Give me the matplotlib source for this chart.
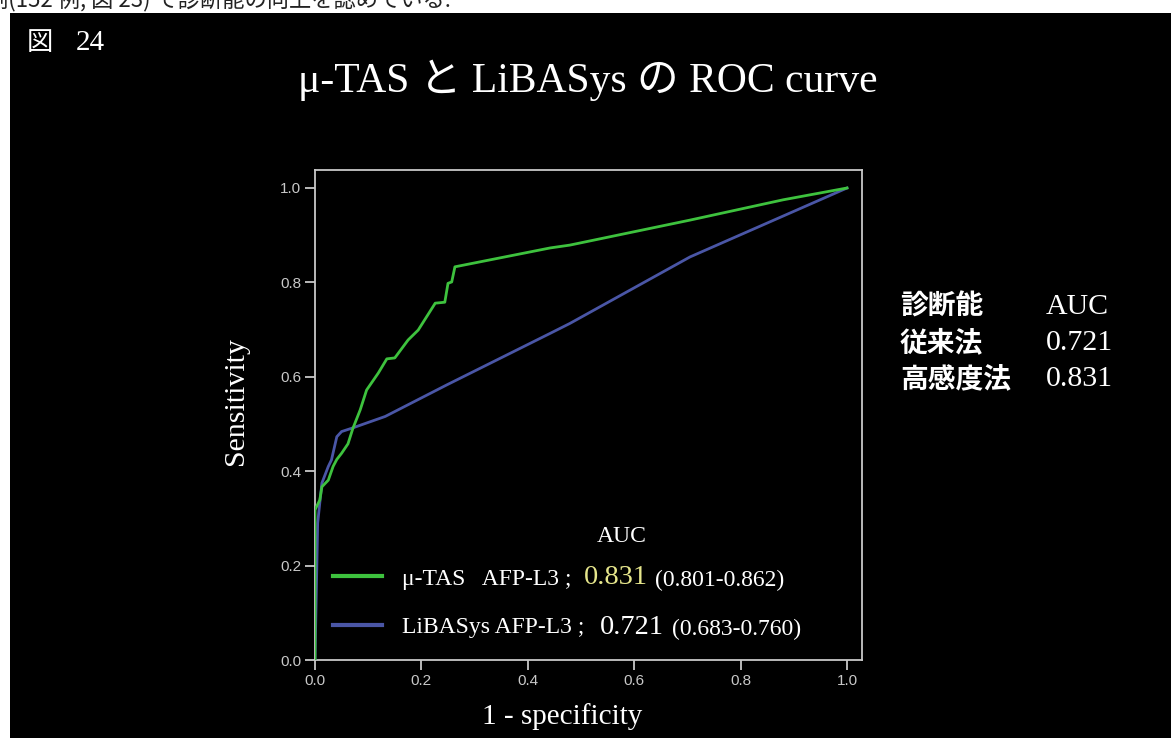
import matplotlib
matplotlib.use("Agg")
import matplotlib.pyplot as plt
from matplotlib.patches import Rectangle
from matplotlib.lines import Line2D

# ROC curve points
tas_fpr = [0.0, 0.0, 0.009, 0.013, 0.025, 0.034, 0.041, 0.050, 0.062, 0.071, 0.085,
           0.097, 0.119, 0.135, 0.150, 0.175, 0.194, 0.226, 0.244, 0.250, 0.257,
           0.263, 0.442, 0.479, 0.705, 0.880, 1.0]
tas_tpr = [0.0, 0.318, 0.339, 0.367, 0.381, 0.410, 0.425, 0.438, 0.458, 0.490, 0.530,
           0.572, 0.608, 0.638, 0.640, 0.678, 0.699, 0.756, 0.758, 0.798, 0.801,
           0.833, 0.873, 0.879, 0.932, 0.975, 1.0]

lib_fpr = [0.0, 0.005, 0.013, 0.025, 0.031, 0.041, 0.050, 0.069, 0.132, 0.248,
           0.442, 0.479, 0.705, 1.0]
lib_tpr = [0.0, 0.290, 0.375, 0.410, 0.424, 0.473, 0.484, 0.491, 0.516, 0.583,
           0.692, 0.713, 0.854, 1.0]

ticks = [0.0, 0.2, 0.4, 0.6, 0.8, 1.0]
tick_labels = ["0.0", "0.2", "0.4", "0.6", "0.8", "1.0"]

legend_names = ["\u03bc-TAS   AFP-L3 ;", "LiBASys AFP-L3 ;"]
legend_auc = ["0.831", "0.721"]
legend_ci = ["(0.801-0.862)", "(0.683-0.760)"]

side_rows = [("診断能", "AUC"), ("従来法", "0.721"), ("高感度法", "0.831")]

GREEN = "#3ec23e"
BLUE = "#4a56a6"
SERIF = ["Liberation Serif", "Noto Sans CJK JP"]
JP = ["Noto Sans CJK JP", "DejaVu Sans"]

W, H = 1171, 738
fig = plt.figure(figsize=(W / 100, H / 100), dpi=100)
fig.patch.set_facecolor("white")


def fx(px):
    return px / W


def fy(py):
    return 1 - py / H


# black slide area
fig.patches.append(Rectangle((fx(10), 0), 1, fy(13), transform=fig.transFigure,
                             facecolor="black", edgecolor="none", zorder=-2))
# clipped text from the page above the slide
fig.text(fx(-14), fy(6), "例(152 例, 図 23) で診断能の向上を認めている.",
         family=JP, fontsize=16, color="#222222", va="baseline", zorder=-1)

fig.text(fx(27), fy(43), "図", family=JP, fontsize=19, color="white", va="center")
fig.text(fx(76), fy(43), "24", family=SERIF, fontsize=21, color="white", va="center")
fig.text(fx(588), fy(80), "\u03bc-TAS と LiBASys の ROC curve", family=SERIF,
         fontsize=30, color="white", ha="center", va="center")

ax = fig.add_axes([fx(315), fy(660), fx(862) - fx(315), fy(170) - fy(660)])
ax.set_facecolor("black")
ax.plot(lib_fpr, lib_tpr, color=BLUE, lw=2.0, zorder=3)
ax.plot(tas_fpr, tas_tpr, color=GREEN, lw=2.0, zorder=4)
ax.set_xlim(0, 547 / 532)
ax.set_ylim(0, 490 / 472)
ax.set_xticks(ticks)
ax.set_xticklabels(tick_labels)
ax.set_yticks(ticks)
ax.set_yticklabels(tick_labels)
for s in ax.spines.values():
    s.set_color("#c8c8c8")
    s.set_linewidth(1.3)
ax.tick_params(colors="#c8c8c8", labelcolor="#c8c8c8", length=7, width=1.3,
               direction="out", labelsize=11, pad=3)
for lab in ax.get_xticklabels() + ax.get_yticklabels():
    lab.set_family("Liberation Sans")

fig.text(fx(562), fy(724), "1 - specificity", family=SERIF, fontsize=21,
         color="white", ha="center", va="baseline")
fig.text(fx(236), fy(401), "Sensitivity", family=SERIF, fontsize=21.5,
         color="white", ha="center", va="center", rotation=90)

# hand-made legend
fig.text(fx(622), fy(537), "AUC", family=SERIF, fontsize=17, color="white",
         ha="center", va="center")
for i, (name, auc, ci, col, py, ax_x, ci_x) in enumerate(zip(
        legend_names, legend_auc, legend_ci, [GREEN, BLUE], [579, 628],
        [584, 600], [655, 672])):
    fig.lines.append(Line2D([fx(333), fx(382)], [fy(py - 3), fy(py - 3)],
                            transform=fig.transFigure, color=col, lw=3))
    fig.text(fx(402), fy(py), name, family=SERIF, fontsize=17, color="white", va="center")
    fig.text(fx(ax_x), fy(py - 1), auc, family=SERIF, fontsize=20.5,
             color="#e6e68c" if i == 0 else "white", va="center")
    fig.text(fx(ci_x), fy(py + 1), ci, family=SERIF, fontsize=17, color="white", va="center")

for i, (lab, val) in enumerate(side_rows):
    py = 307 + 36 * i
    fig.text(fx(900), fy(py), lab, family=JP, fontsize=20, color="white",
             va="center", weight="bold")
    fig.text(fx(1046), fy(py), val, family=SERIF, fontsize=21.5, color="white", va="center")

fig.savefig("out.png", dpi=100, facecolor=fig.get_facecolor())
